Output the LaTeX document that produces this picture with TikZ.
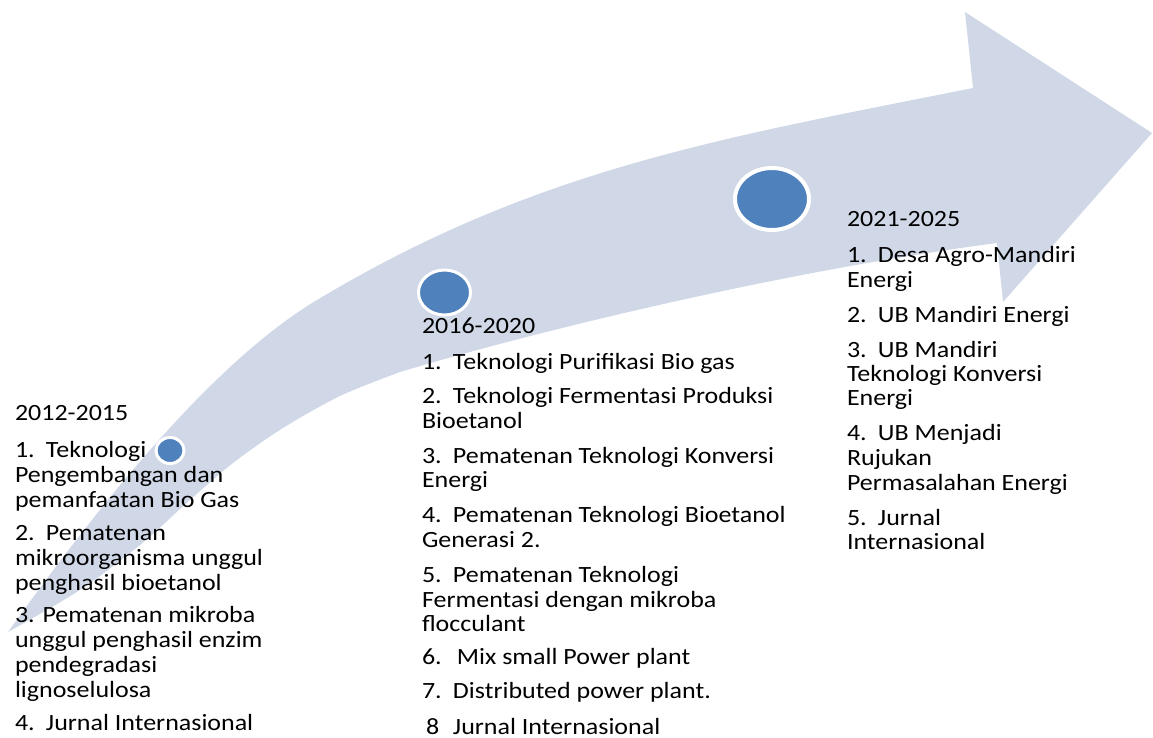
\documentclass[tikz,border=0pt]{standalone}
\usepackage{fontspec}
\setmainfont{Carlito}[FakeStretch=1.115]
\usetikzlibrary{shapes.geometric}
\definecolor{arrowfill}{HTML}{D0D8E8}
\definecolor{dotblue}{HTML}{4F81BD}
\newcommand\itemnum[1]{\makebox[31pt][l]{#1}}
\tikzset{
  txt/.style={anchor=base west, inner sep=0pt, outer sep=0pt, text=black,
              font=\fontsize{23.3}{25}\selectfont},
  dot/.style={ellipse, fill=dotblue, draw=white, inner sep=0pt, outer sep=0pt}
}
\begin{document}
\begin{tikzpicture}[x=1pt,y=-1pt]
\useasboundingbox (0,0) rectangle (1153,738);
% curved arrow
\fill[arrowfill]
  (8,632) .. controls (108,492) and (217,360) .. (317,300)
          .. controls (537,168) and (723,138) .. (973,88)
  -- (965,12) -- (1152,133) -- (1003,302) -- (997,243)
  .. controls (797,269) and (550,327) .. (400,372)
  -- plot[smooth, tension=0.5] coordinates {(400,372) (340,396) (283,428) (233,463) (190,500) (140,545) (80,590) (8,632)}
  -- cycle;
% milestones
\node[dot, line width=3pt, minimum width=28pt, minimum height=26pt] (m1) at (170,450.5) {};
\node[dot, line width=3pt, minimum width=52pt, minimum height=45pt] (m2) at (444.5,292.5) {};
\node[dot, line width=4pt, minimum width=74pt, minimum height=62pt] (m3) at (772,199) {};
% column 1
\foreach \y/\t [count=\i] in {
  420/{2012-2015},
  457/{\itemnum{1.}Teknologi},
  482/{Pengembangan dan},
  507/{pemanfaatan Bio Gas},
  540/{\itemnum{2.}Pematenan},
  565/{mikroorganisma unggul},
  590/{penghasil bioetanol},
  622/{3. Pematenan mikroba},
  647/{unggul penghasil enzim},
  672/{pendegradasi},
  697/{lignoselulosa},
  730/{\itemnum{4.}Jurnal Internasional}}
  \node[txt] (a\i) at (15,\y) {\t};
% column 2
\foreach \y/\t [count=\i] in {
  333/{2016-2020},
  369/{\itemnum{1.}Teknologi Purifikasi Bio gas},
  403/{\itemnum{2.}Teknologi Fermentasi Produksi},
  428/{Bioetanol},
  463/{\itemnum{3.}Pematenan Teknologi Konversi},
  487/{Energi},
  522/{\itemnum{4.}Pematenan Teknologi Bioetanol},
  547/{Generasi 2.},
  582/{\itemnum{5.}Pematenan Teknologi},
  607/{Fermentasi dengan mikroba},
  631/{flocculant},
  664/{\makebox[35pt][l]{6.}Mix small Power plant},
  698/{\itemnum{7.}Distributed power plant.},
  734/{\hspace*{4pt}\makebox[27pt][l]{8}Jurnal Internasional}}
  \node[txt] (b\i) at (422,\y) {\t};
% column 3
\foreach \y/\t [count=\i] in {
  226/{2021-2025},
  262/{\itemnum{1.}Desa Agro-Mandiri},
  287/{Energi},
  322/{\itemnum{2.}UB Mandiri Energi},
  357/{\itemnum{3.}UB Mandiri},
  381/{Teknologi Konversi},
  405/{Energi},
  440/{\itemnum{4.}UB Menjadi},
  465/{Rujukan},
  490/{Permasalahan Energi},
  525/{\itemnum{5.}Jurnal},
  549/{Internasional}}
  \node[txt] (c\i) at (847,\y) {\t};
\end{tikzpicture}
\end{document}
